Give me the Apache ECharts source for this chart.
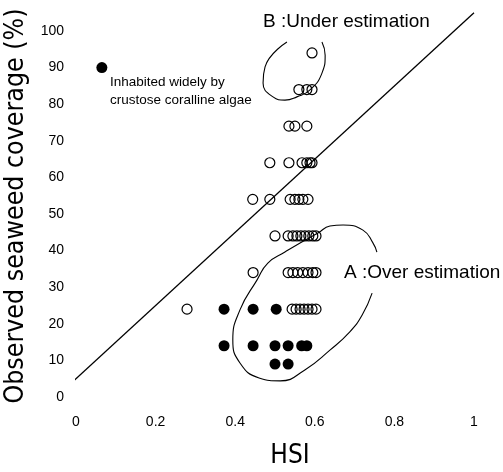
<!DOCTYPE html>
<html><head><meta charset="utf-8">
<script src="https://cdn.jsdelivr.net/npm/echarts@6/dist/echarts.min.js"></script>
<style>html,body{margin:0;padding:0;background:#fff}#c{width:503px;height:472px}</style>
</head><body><div id="c"></div>
<script>
// Open circles (observed vs HSI)
var openHSI = [
  0.593,
  0.560, 0.580, 0.593,
  0.535, 0.550, 0.580,
  0.487, 0.535, 0.568, 0.580, 0.588, 0.593,
  0.444, 0.487, 0.538, 0.550, 0.560, 0.570, 0.583,
  0.500, 0.533, 0.545, 0.555, 0.565, 0.575, 0.585, 0.595, 0.603,
  0.445, 0.533, 0.545, 0.557, 0.570, 0.583, 0.595, 0.603,
  0.279, 0.543, 0.553, 0.563, 0.573, 0.583, 0.593, 0.603
];
var openCoverage = [
  94,
  84, 84, 84,
  74, 74, 74,
  64, 64, 64, 64, 64, 64,
  54, 54, 54, 54, 54, 54, 54,
  44, 44, 44, 44, 44, 44, 44, 44, 44,
  34, 34, 34, 34, 34, 34, 34, 34,
  24, 24, 24, 24, 24, 24, 24, 24
];
// Filled circles (inhabited widely by crustose coralline algae)
var filledHSI = [0.372, 0.445, 0.503, 0.372, 0.445, 0.500, 0.533, 0.567, 0.580, 0.500, 0.533];
var filledCoverage = [24, 24, 24, 14, 14, 14, 14, 14, 14, 9, 9];
// Legend marker
var legendHSI = [0.065];
var legendCoverage = [90];
// Reference line
var lineHSI = [-0.02, 1.0];
var lineCoverage = [3, 105];
// Hand-drawn loop B (under estimation)
var loopBHSI = [0.530, 0.475, 0.470, 0.495, 0.525, 0.555, 0.588, 0.618, 0.626, 0.618];
var loopBCoverage = [97.0, 90.2, 85.8, 82.0, 81.1, 82.0, 83.9, 88.5, 93.4, 97.0];
// Hand-drawn loop A (over estimation)
var loopAHSI = [0.756, 0.746, 0.721, 0.671, 0.638, 0.608, 0.563, 0.525, 0.482, 0.455, 0.412, 0.394, 0.412, 0.460, 0.513, 0.575, 0.638, 0.688, 0.719, 0.744];
var loopACoverage = [39.6, 42.1, 45.6, 47.0, 46.7, 44.8, 42.1, 39.6, 36.6, 32.0, 23.8, 15.6, 9.3, 5.2, 4.4, 7.4, 12.8, 17.8, 22.4, 28.4];
var xTicks = [0, 0.2, 0.4, 0.6, 0.8, 1];
var yTicks = [0, 10, 20, 30, 40, 50, 60, 70, 80, 90, 100];

function zip(a, b) { return a.map(function (v, i) { return [v, b[i]]; }); }

var chart = echarts.init(document.getElementById('c'), null, {renderer: 'canvas'});
var narrow = "'Liberation Sans Narrow','DejaVu Sans Condensed','Liberation Sans',sans-serif";
var sans = "'Liberation Sans',Arial,sans-serif";
chart.setOption({
  animation: false,
  backgroundColor: '#fff',
  grid: {left: 76, right: 29, top: 31, bottom: 75, containLabel: false, outerBoundsMode: 'none'},
  xAxis: {
    type: 'value', min: 0, max: 1, interval: 0.2,
    axisLine: {show: false}, axisTick: {show: false}, splitLine: {show: false},
    axisLabel: {margin: 18, color: '#000', fontSize: 14, fontFamily: sans,
      formatter: function (v) { var r = Math.round(v * 10) / 10; return xTicks.indexOf(r) >= 0 ? String(r) : ''; }},
    name: 'HSI', nameLocation: 'middle', nameGap: 46,
    nameTextStyle: {fontSize: 26, color: '#000', fontFamily: narrow, padding: [0, 0, 0, 30]}
  },
  yAxis: {
    type: 'value', min: 0, max: 100, interval: 10,
    axisLine: {show: false}, axisTick: {show: false}, splitLine: {show: false},
    axisLabel: {margin: 12, color: '#000', fontSize: 14, fontFamily: sans,
      formatter: function (v) { return yTicks.indexOf(v) >= 0 ? String(v) : ''; }},
    name: 'Observed seaweed coverage (%)', nameLocation: 'middle', nameRotate: 90, nameGap: 43,
    nameTextStyle: {fontSize: 26.5, color: '#000', fontFamily: narrow, padding: [0, 0, 0, 16]}
  },
  graphic: [
    {type: 'text', left: 110, top: 73, style: {text: 'Inhabited widely by\ncrustose coralline algae', fontSize: 13.5, lineHeight: 18, fill: '#000', fontFamily: sans}},
    {type: 'text', left: 263, top: 12, style: {text: 'B :Under estimation', fontSize: 19, fill: '#000', fontFamily: sans}},
    {type: 'text', left: 344, top: 263, style: {text: 'A :Over estimation', fontSize: 19, fill: '#000', fontFamily: sans}}
  ],
  series: [
    {type: 'line', data: zip(lineHSI, lineCoverage), clip: false, symbol: 'none', silent: true,
      lineStyle: {color: '#000', width: 1.3}},
    {type: 'line', data: zip(loopBHSI, loopBCoverage), smooth: 0.5, clip: false, symbol: 'none', silent: true,
      lineStyle: {color: '#000', width: 1.1}},
    {type: 'line', data: zip(loopAHSI, loopACoverage), smooth: 0.5, clip: false, symbol: 'none', silent: true,
      lineStyle: {color: '#000', width: 1.1}},
    {type: 'scatter', data: zip(openHSI, openCoverage), symbol: 'circle', symbolSize: 10,
      itemStyle: {color: 'rgba(0,0,0,0)', borderColor: '#000', borderWidth: 1.2, opacity: 1}},
    {type: 'scatter', data: zip(filledHSI, filledCoverage), symbol: 'circle', symbolSize: 11,
      itemStyle: {color: '#000', opacity: 1}},
    {type: 'scatter', data: zip(legendHSI, legendCoverage), symbol: 'circle', symbolSize: 11,
      itemStyle: {color: '#000', opacity: 1}}
  ]
});
</script>
</body></html>
